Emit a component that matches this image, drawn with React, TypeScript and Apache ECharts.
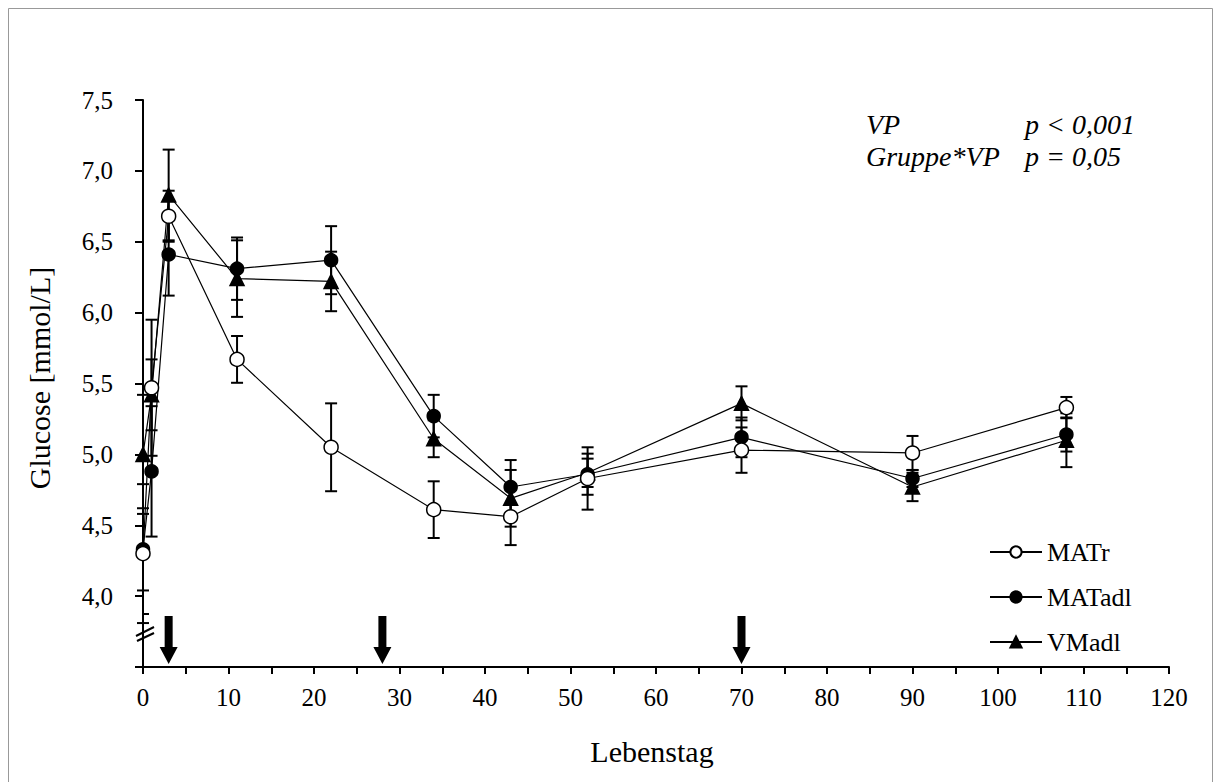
import React, { useEffect, useRef } from "react";
import * as echarts from "echarts";

const days = [0, 1, 3, 11, 22, 34, 43, 52, 70, 90, 108];
const matr = [4.3, 5.47, 6.68, 5.67, 5.05, 4.61, 4.56, 4.83, 5.03, 5.01, 5.33];
const matrSE = [0.49, 0.48, 0.18, 0.165, 0.31, 0.2, 0.2, 0.22, 0.16, 0.12, 0.075];
const matadl = [4.33, 4.88, 6.41, 6.31, 6.37, 5.27, 4.77, 4.86, 5.12, 4.83, 5.14];
const matadlSE = [0.29, 0.46, 0.29, 0.22, 0.24, 0.15, 0.19, 0.145, 0.14, 0.06, 0.12];
const vmadl = [5.0, 5.42, 6.83, 6.24, 6.22, 5.11, 4.69, 4.87, 5.36, 4.77, 5.1];
const vmadlSE = [0.42, 0.25, 0.32, 0.27, 0.21, 0.13, 0.2, 0.1, 0.12, 0.1, 0.19];
const arrowDays = [3, 28, 70];
const arrowLevel = 3.69;
const seriesNames = ["MATr", "MATadl", "VMadl"];
const statLabels = ["VP", "Gruppe*VP"];
const statValues = ["p < 0,001", "p = 0,05"];

const FONT = "'Liberation Serif', 'Times New Roman', serif";

function errData(mean: number[], se: number[]) {
  return days.map((d, i) => [d, mean[i] - se[i], mean[i] + se[i]]);
}

function errSeries(name: string, mean: number[], se: number[]) {
  return {
    type: "custom",
    name: name + "_err",
    z: 1,
    encode: { x: 0, y: [1, 2] },
    data: errData(mean, se),
    renderItem: (params: any, api: any) => {
      const x = api.value(0);
      const lo = api.coord([x, api.value(1)]);
      const hi = api.coord([x, api.value(2)]);
      const hw = 6;
      const st = { stroke: "#000", lineWidth: 2 };
      return {
        type: "group",
        children: [
          { type: "line", shape: { x1: hi[0], y1: hi[1], x2: lo[0], y2: lo[1] }, style: st },
          { type: "line", shape: { x1: hi[0] - hw, y1: hi[1], x2: hi[0] + hw, y2: hi[1] }, style: st },
          { type: "line", shape: { x1: lo[0] - hw, y1: lo[1], x2: lo[0] + hw, y2: lo[1] }, style: st },
        ],
      };
    },
  };
}

function lineSeries(name: string, mean: number[], symbol: string, size: number, fill: string) {
  return {
    type: "line",
    name,
    z: 3,
    data: days.map((d, i) => [d, mean[i]]),
    symbol,
    symbolSize: size,
    showAllSymbol: true,
    lineStyle: { color: "#000", width: 1.2 },
    itemStyle: { color: fill, borderColor: "#000", borderWidth: 1.5, opacity: 1 },
    emphasis: { disabled: true },
  };
}

export default function App() {
  const ref = useRef<HTMLDivElement>(null);
  useEffect(() => {
    if (!ref.current) return;
    const chart = echarts.init(ref.current, undefined, { renderer: "svg" });
    const option: any = {
      animation: false,
      backgroundColor: "#fff",
      grid: { left: 143, right: 45, top: 100, bottom: 115, containLabel: false },
      xAxis: {
        type: "value",
        min: 0,
        max: 120,
        interval: 5,
        splitLine: { show: false },
        axisLine: { lineStyle: { color: "#000", width: 2 } },
        axisTick: { length: 7, lineStyle: { color: "#000", width: 2 } },
        axisLabel: {
          margin: 18,
          color: "#000",
          fontFamily: FONT,
          fontSize: 25,
          formatter: (v: number) => (v % 10 === 0 ? String(v) : ""),
        },
      },
      yAxis: {
        type: "value",
        min: 3.5,
        max: 7.5,
        interval: 0.5,
        splitLine: { show: false },
        axisLine: { show: true, lineStyle: { color: "#000", width: 2 } },
        axisTick: { show: true, length: 8, lineStyle: { color: "#000", width: 2 } },
        axisLabel: {
          margin: 30,
          color: "#000",
          fontFamily: FONT,
          fontSize: 25,
          formatter: (v: number) => (Math.abs(v - 3.5) < 1e-6 ? "" : v.toFixed(1).replace(".", ",")),
        },
      },
      legend: {
        orient: "vertical",
        left: 984,
        top: 534,
        itemWidth: 52,
        itemHeight: 14,
        itemGap: 19,
        data: seriesNames,
        textStyle: { color: "#000", fontFamily: FONT, fontSize: 26 },
        selectedMode: false,
      },
      series: [
        errSeries("MATr", matr, matrSE),
        errSeries("MATadl", matadl, matadlSE),
        errSeries("VMadl", vmadl, vmadlSE),
        lineSeries(seriesNames[2], vmadl, "triangle", 14, "#000"),
        lineSeries(seriesNames[1], matadl, "circle", 13, "#000"),
        lineSeries(seriesNames[0], matr, "circle", 14, "#fff"),
        {
          type: "scatter",
          name: "arrows",
          z: 2,
          data: arrowDays.map((d) => [d, arrowLevel]),
          symbol: "path://M5,0 L13,0 L13,31 L18,31 L9,48 L0,31 L5,31 Z",
          symbolSize: [18, 48],
          itemStyle: { color: "#000", opacity: 1 },
          emphasis: { disabled: true },
        },
      ],
      graphic: [
        {
          type: "rect",
          shape: { x: 8.5, y: 8.5, width: 1204, height: 780 },
          style: { fill: "none", stroke: "#999", lineWidth: 1 },
          silent: true,
        },
        {
          type: "line",
          shape: { x1: 143, y1: 614, x2: 149, y2: 614 },
          style: { stroke: "#000", lineWidth: 2 },
        },
        {
          type: "line",
          shape: { x1: 136, y1: 636, x2: 154, y2: 627 },
          style: { stroke: "#000", lineWidth: 2 },
        },
        {
          type: "line",
          shape: { x1: 137, y1: 641, x2: 154, y2: 633 },
          style: { stroke: "#000", lineWidth: 2 },
        },
        {
          type: "text",
          x: 39,
          y: 378,
          rotation: Math.PI / 2,
          style: {
            text: "Glucose [mmol/L]",
            fontFamily: FONT,
            fontSize: 30,
            fill: "#000",
            align: "center",
            verticalAlign: "middle",
          },
        },
        {
          type: "text",
          x: 652,
          y: 751,
          style: {
            text: "Lebenstag",
            fontFamily: FONT,
            fontSize: 30,
            fill: "#000",
            align: "center",
            verticalAlign: "middle",
          },
        },
        ...statLabels.map((t, i) => ({
          type: "text",
          x: 866,
          y: 124 + i * 32,
          style: {
            text: t,
            fontFamily: FONT,
            fontStyle: "italic",
            fontSize: 28,
            fill: "#000",
            align: "left",
            verticalAlign: "middle",
          },
        })),
        ...statValues.map((t, i) => ({
          type: "text",
          x: 1025,
          y: 124 + i * 32,
          style: {
            text: t,
            fontFamily: FONT,
            fontStyle: "italic",
            fontSize: 28,
            fill: "#000",
            align: "left",
            verticalAlign: "middle",
          },
        })),
      ],
    };
    chart.setOption(option);
    return () => chart.dispose();
  }, []);
  return (
    <div
      ref={ref}
      style={{ position: "absolute", left: 0, top: 0, width: 1214, height: 782 }}
    />
  );
}
